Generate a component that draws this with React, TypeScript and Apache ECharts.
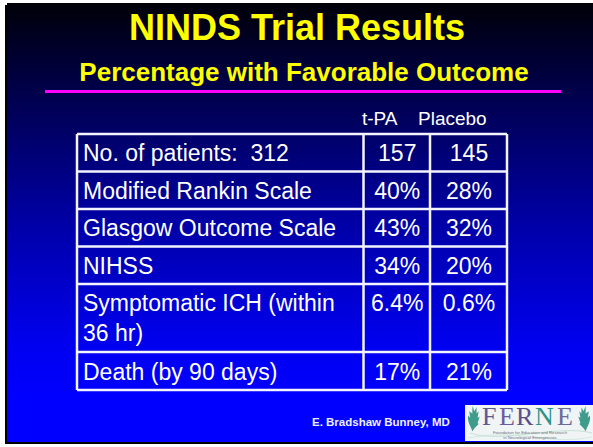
import React, { useEffect, useRef } from "react";
import * as echarts from "echarts";

// ---- content ----
const titleText = "NINDS Trial Results";
const subtitleText = "Percentage with Favorable Outcome";
const columnHeaders = ["t-PA", "Placebo"];
const rowLabels = [
  "No. of patients:  312",
  "Modified Rankin Scale",
  "Glasgow Outcome Scale",
  "NIHSS",
  "Symptomatic ICH (within\n36 hr)",
  "Death (by 90 days)",
];
const tpaValues = ["157", "40%", "43%", "34%", "6.4%", "17%"];
const placeboValues = ["145", "28%", "32%", "20%", "0.6%", "21%"];
const authorText = "E. Bradshaw Bunney, MD";
const logoLetters = ["F", "E", "R", "N", "E"];
const logoTagline = ["Foundation for Education and Research", "in Neurological Emergencies"];

// ---- layout ----
const SANS = '"Liberation Sans", Arial, Helvetica, sans-serif';
const SERIF = '"Liberation Serif", "DejaVu Serif", serif';
const rowTops = [134, 171.5, 209, 246.5, 284, 352, 390];
const colX = [77, 363.5, 430, 507];
const headerX = [362, 418];
const logoLetterX = [482, 499, 516, 535, 557];
const logoLetterColors = ["#5d5890", "#6a5c9c", "#5a4e8c", "#2f9488", "#6b6a98"];

const LEAF_D =
  "M7,26 C5,20 2,17 3,11 L5,13 L4,7 L7,9 L7,2 L9,7 L11,3 L11,9 L13,7 L12,13 L14,12 L12,18 L13,19 L9,23 Z";

let registered = false;
function ensureShapes() {
  if (registered) return;
  registered = true;
  echarts.graphic.registerShape("leaf", echarts.graphic.extendPath(LEAF_D, {}));
}

function txt(text: string, x: number, y: number, size: number, opts: any = {}) {
  const align = opts.align || "left";
  const valign = opts.valign || "middle";
  return {
    type: "text",
    x,
    y,
    silent: true,
    style: {
      text,
      fill: opts.fill || "#ffffff",
      fontSize: size,
      fontFamily: opts.family || SANS,
      fontWeight: opts.weight || "normal",
      align,
      verticalAlign: valign,
      textAlign: align,
      textVerticalAlign: valign,
      lineHeight: opts.lineHeight,
      textShadowColor: opts.shadow || "rgba(0,0,0,0.75)",
      textShadowOffsetX: opts.shadowOff ?? 1,
      textShadowOffsetY: opts.shadowOff ?? 1,
      textShadowBlur: 0,
    },
    z: opts.z || 10,
  };
}

export default function App() {
  const ref = useRef<HTMLDivElement>(null);
  useEffect(() => {
    if (!ref.current) return;
    ensureShapes();
    const chart = echarts.init(ref.current, undefined, { renderer: "svg" });
    const els: any[] = [];

    // slide shadow + background
    els.push({ type: "rect", shape: { x: 5, y: 5, width: 588, height: 439 }, style: { fill: "#000000" }, z: 0 });
    els.push({
      type: "rect",
      shape: { x: 7, y: 3, width: 586, height: 439 },
      style: {
        fill: {
          type: "linear",
          x: 0,
          y: 0,
          x2: 0,
          y2: 1,
          colorStops: [
            { offset: 0, color: "#000008" },
            { offset: 0.2, color: "#00004a" },
            { offset: 0.5, color: "#0000a6" },
            { offset: 0.78, color: "#0000f0" },
            { offset: 0.9, color: "#0000ff" },
            { offset: 1, color: "#0000ff" },
          ],
        },
      },
      z: 1,
    });

    // titles
    els.push(txt(titleText, 297, 27, 36, { align: "center", weight: "bold", fill: "#ffff00", shadow: "#000000", shadowOff: 2 }));
    els.push(txt(subtitleText, 304, 72, 26, { align: "center", weight: "bold", fill: "#ffff00", shadow: "#000000", shadowOff: 2 }));
    els.push({ type: "line", shape: { x1: 45, y1: 91.5, x2: 561, y2: 91.5 }, style: { stroke: "#ff00ff", lineWidth: 3 }, z: 5 });

    // headers
    columnHeaders.forEach((h, i) => els.push(txt(h, headerX[i], 118, 19, {})));

    // table lines
    const lineStyle = { stroke: "#f4f4ff", lineWidth: 2.5 };
    rowTops.forEach((y) =>
      els.push({ type: "line", shape: { x1: colX[0], y1: y, x2: colX[3], y2: y }, style: lineStyle, z: 6 })
    );
    colX.forEach((x) =>
      els.push({
        type: "line",
        shape: { x1: x, y1: rowTops[0], x2: x, y2: rowTops[rowTops.length - 1] },
        style: lineStyle,
        z: 6,
      })
    );

    // cells
    rowLabels.forEach((label, r) => {
      const top = rowTops[r];
      const bot = rowTops[r + 1];
      const multi = label.includes("\n");
      const y = multi ? top + 4 : (top + bot) / 2 + 0.5;
      const valign = multi ? "top" : "middle";
      els.push(txt(label, colX[0] + 6, y, 23, { valign, lineHeight: 30 }));
      els.push(txt(tpaValues[r], (colX[1] + colX[2]) / 2 + 0.5, y, 23, { align: "center", valign, lineHeight: 30 }));
      els.push(txt(placeboValues[r], (colX[2] + colX[3]) / 2 + 0.5, y, 23, { align: "center", valign, lineHeight: 30 }));
    });

    // author
    els.push(txt(authorText, 312, 422, 11.5, { weight: "bold", fill: "#eef0ff", shadowOff: 1 }));

    // logo
    els.push({ type: "rect", shape: { x: 465, y: 405, width: 128, height: 36 }, style: { fill: "#f1f4f5" }, z: 8 });
    els.push({
      type: "bezierCurve",
      shape: { x1: 470, y1: 433, x2: 592, y2: 433, cpx1: 500, cpy1: 444, cpx2: 560, cpy2: 424 },
      style: { stroke: "#b9dccf", lineWidth: 0.8, fill: null },
      z: 9,
    });
    els.push({
      type: "bezierCurve",
      shape: { x1: 468, y1: 438, x2: 592, y2: 437, cpx1: 520, cpy1: 428, cpx2: 550, cpy2: 446 },
      style: { stroke: "#c6e2d6", lineWidth: 0.7, fill: null },
      z: 9,
    });
    els.push({ type: "leaf", x: 465, y: 404, scaleX: 1.05, scaleY: 1.05, style: { fill: "#3f9c8c" }, z: 10 });
    els.push({ type: "leaf", x: 593, y: 404, scaleX: -1.05, scaleY: 1.05, style: { fill: "#3f9c8c" }, z: 10 });
    logoLetters.forEach((l, i) =>
      els.push(
        txt(l, logoLetterX[i], 429.5, 26, {
          family: SERIF,
          fill: logoLetterColors[i],
          valign: "bottom",
          shadow: "rgba(0,0,0,0)",
          shadowOff: 0,
          z: 11,
        })
      )
    );
    logoTagline.forEach((t, i) =>
      els.push(
        txt(t, 530, 432.5 + i * 4.5, 4.2, {
          align: "center",
          fill: "#6d6f80",
          shadow: "rgba(0,0,0,0)",
          shadowOff: 0,
          z: 11,
        })
      )
    );

    chart.setOption({ animation: false, graphic: { elements: els } });
    return () => chart.dispose();
  }, []);
  return (
    <div
      ref={ref}
      style={{ position: "fixed", left: 0, top: 0, width: 593, height: 447, background: "#ffffff" }}
    />
  );
}
